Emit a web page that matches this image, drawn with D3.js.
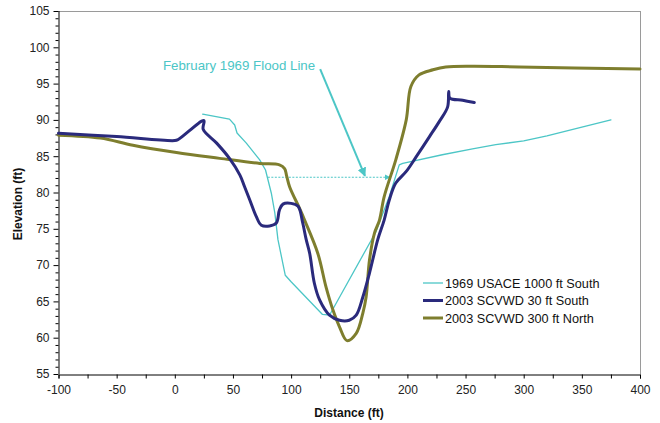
<!DOCTYPE html>
<html><head><meta charset="utf-8">
<script src="https://cdn.jsdelivr.net/npm/d3@7"></script>
<style>
html,body{margin:0;padding:0;background:#fff;}
svg{display:block;font-family:"Liberation Sans",Arial,sans-serif;}
</style></head>
<body>
<svg id="c" width="660" height="423"></svg>
<script>
const seriesNames = ["1969 USACE 1000 ft South","2003 SCVWD 30 ft South","2003 SCVWD 300 ft North"];
const xTicks = [-100,-50,0,50,100,150,200,250,300,350,400];
const yTicks = [55,60,65,70,75,80,85,90,95,100,105];

const usace1969 = [[24,90.8],[47,90.1],[51.5,89.3],[53.5,88.2],[61.5,86.8],[73,84.5],[78,83.1],[83,79.9],[86,77.2],[88.7,73.5],[95,68.6],[100,67.7],[127,63.2],[133,63.1],[173,74.6],[184.5,79.5],[193,83.8],[196,84.0],[230,85.2],[256,86.0],[276,86.6],[300,87.1],[320,87.8],[350,89.0],[375,90.0]];
const scvwd30S = [[-100,88.15],[-50,87.7],[0,87.15],[3,87.3],[25,89.9],[24.4,88.7],[36,86.8],[47,84.7],[56,82.4],[60,80.8],[64.4,79],[70,76.7],[74.4,75.5],[81.5,75.4],[87.3,75.8],[90,77.6],[93,78.4],[100,78.5],[106,78.1],[110,75.8],[113,73.5],[116,71.6],[120,67.5],[124.5,65.2],[133,63.1],[141.6,62.4],[150,62.4],[156,63.1],[161.7,65.6],[167.4,68.9],[174.5,73.5],[180,76.2],[184.5,79],[190,81.3],[199,82.9],[207.5,84.9],[219,87.7],[227.5,89.8],[234.6,91.8],[235.5,93.9],[236.5,93.0],[247.5,92.7],[257.5,92.4]];
const scvwd300N = [[-100,87.9],[-64,87.5],[-36,86.5],[1.4,85.5],[38.6,84.7],[73,84.0],[90,83.8],[94.4,83.3],[96,82.4],[98.7,80.8],[107.3,77.8],[111.6,76.2],[123,71.6],[130,67],[136,63.8],[141.6,61.5],[148,59.6],[156,60.6],[161.7,63.4],[164.5,65.6],[167.4,70.7],[171.7,74.4],[176,76.2],[180,79.4],[190,84.5],[199,90],[203,94.6],[210,96.2],[222,96.9],[233,97.3],[256,97.4],[296,97.3],[400,97.0]];
const floodLine = [[80,82.1],[185,82.1]];
const floodLabel = "February 1969 Flood Line";

const colors = ["#4CC6C6","#2A2A7C","#7E7E2E"];
const widths = [1.3,3,3];

const svg = d3.select("#c");
const L=58.5, R=640, T=11, B=374;
const x = d3.scaleLinear().domain([-100,400]).range([L,R]);
const y = d3.scaleLinear().domain([55,105]).range([B,T]);

// plot frame top/right
svg.append("line").attr("x1",L).attr("x2",R).attr("y1",T+0.5).attr("y2",T+0.5).attr("stroke","#9a9a9a");
svg.append("line").attr("x1",R+0.5).attr("x2",R+0.5).attr("y1",T).attr("y2",B).attr("stroke","#9a9a9a");

// Axes
const xMinor = d3.range(-100,401,25);
const gx = svg.append("g").attr("transform",`translate(0,${B+0.5})`);
gx.call(d3.axisBottom(x).tickValues(xMinor).tickSize(4).tickFormat(d=>xTicks.includes(d)?d:""));
gx.select(".domain").attr("stroke","#000");
gx.selectAll(".tick line").attr("stroke","#000");
gx.selectAll(".tick text").attr("font-size",12).attr("fill","#222").attr("dy","1.05em").attr("font-family","Liberation Sans, Arial");

const yMinor = d3.range(55,106,1).filter(v=>!yTicks.includes(v));
const gyMinor = svg.append("g").attr("transform",`translate(${L},0)`);
gyMinor.call(d3.axisLeft(y).tickValues(yMinor).tickSize(3).tickFormat(""));
gyMinor.select(".domain").remove();
gyMinor.selectAll(".tick line").attr("stroke","#000");
const gy = svg.append("g").attr("transform",`translate(${L},0)`);
gy.call(d3.axisLeft(y).tickValues(yTicks).tickSize(5).tickPadding(4));
gy.select(".domain").attr("stroke","#000").attr("d",`M0.5,${B}V${T}`);
gy.selectAll(".tick line").attr("stroke","#000");
gy.selectAll(".tick text").attr("font-size",12).attr("fill","#222").attr("font-family","Liberation Sans, Arial");

// axis titles
svg.append("text").attr("x",349).attr("y",417).attr("text-anchor","middle").attr("font-size",12).attr("font-weight","bold").attr("fill","#111").text("Distance (ft)");
svg.append("text").attr("transform","translate(22,204) rotate(-90)").attr("text-anchor","middle").attr("font-size",12).attr("font-weight","bold").attr("fill","#111").text("Elevation (ft)");

// defs arrow
const defs = svg.append("defs");
defs.append("marker").attr("id","arr").attr("viewBox","0 0 10 10").attr("refX",9).attr("refY",5)
  .attr("markerWidth",6).attr("markerHeight",6).attr("orient","auto-start-reverse").attr("markerUnits","userSpaceOnUse")
  .append("path").attr("d","M0,0L10,5L0,10Z").attr("fill",colors[0]);
defs.append("marker").attr("id","arr2").attr("viewBox","0 0 10 10").attr("refX",9).attr("refY",5)
  .attr("markerWidth",9).attr("markerHeight",9).attr("orient","auto").attr("markerUnits","userSpaceOnUse")
  .append("path").attr("d","M0,0L10,5L0,10Z").attr("fill",colors[0]);

// flood line (dashed)
svg.append("line").attr("x1",x(floodLine[0][0])).attr("x2",x(floodLine[1][0]))
  .attr("y1",y(floodLine[0][1])).attr("y2",y(floodLine[1][1]))
  .attr("stroke",colors[0]).attr("stroke-width",1.2).attr("stroke-dasharray","2,1.5").attr("marker-end","url(#arr)");

// series
const line = d3.line().x(d=>x(d[0])).y(d=>y(d[1]));
const series = [usace1969, scvwd30S, scvwd300N];
const curves = [d3.curveLinear, d3.curveCatmullRom.alpha(0.5), d3.curveCatmullRom.alpha(0.5)];
[0,2,1].forEach(i=>{
  svg.append("path").attr("d",line.curve(curves[i])(series[i])).attr("fill","none")
    .attr("stroke",colors[i]).attr("stroke-width",widths[i]).attr("stroke-linejoin","round").attr("stroke-linecap","round");
});

// annotation
svg.append("text").attr("x",x(125)-5).attr("y",y(97)+1).attr("text-anchor","end").attr("font-size",13.3).attr("fill",colors[0]).text(floodLabel);
svg.append("line").attr("x1",x(125)).attr("y1",y(97)).attr("x2",x(163.5)).attr("y2",y(82.3))
  .attr("stroke",colors[0]).attr("stroke-width",2).attr("marker-end","url(#arr2)");

// legend
const lg = svg.append("g");
seriesNames.forEach((n,i)=>{
  const yy = 283 + i*17.5;
  lg.append("line").attr("x1",423).attr("x2",443).attr("y1",yy).attr("y2",yy).attr("stroke",colors[i]).attr("stroke-width",widths[i]);
  lg.append("text").attr("x",445).attr("y",yy+4.5).attr("font-size",12.7).attr("fill","#111").text(n);
});
</script>
</body></html>
